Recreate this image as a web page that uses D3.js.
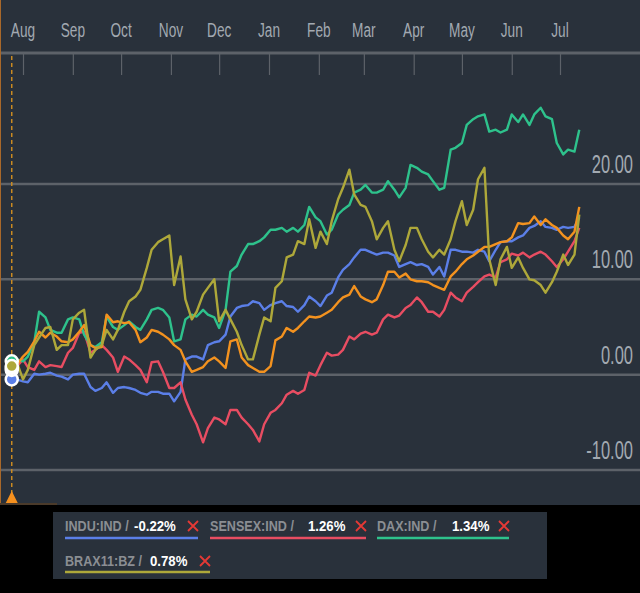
<!DOCTYPE html>
<html>
<head>
<meta charset="utf-8">
<script src="https://cdn.jsdelivr.net/npm/d3@7"></script>
<style>
  body { margin: 0; background: #000; }
  svg { display: block; }
</style>
</head>
<body>
<script>
// twice-weekly closes (Mon / Thu), % change since start
var dates = [
  "2016-07-25", "2016-07-28", "2016-08-01", "2016-08-04", "2016-08-08", "2016-08-11", "2016-08-15", "2016-08-18",
  "2016-08-22", "2016-08-25", "2016-08-29", "2016-09-01", "2016-09-05", "2016-09-08", "2016-09-12", "2016-09-15",
  "2016-09-19", "2016-09-22", "2016-09-26", "2016-09-29", "2016-10-03", "2016-10-06", "2016-10-10", "2016-10-13",
  "2016-10-17", "2016-10-20", "2016-10-24", "2016-10-27", "2016-10-31", "2016-11-03", "2016-11-07", "2016-11-10",
  "2016-11-14", "2016-11-17", "2016-11-21", "2016-11-24", "2016-11-28", "2016-12-01", "2016-12-05", "2016-12-08",
  "2016-12-12", "2016-12-15", "2016-12-19", "2016-12-22", "2016-12-26", "2016-12-29", "2017-01-02", "2017-01-05",
  "2017-01-09", "2017-01-12", "2017-01-16", "2017-01-19", "2017-01-23", "2017-01-26", "2017-01-30", "2017-02-02",
  "2017-02-06", "2017-02-09", "2017-02-13", "2017-02-16", "2017-02-20", "2017-02-23", "2017-02-27", "2017-03-02",
  "2017-03-06", "2017-03-09", "2017-03-13", "2017-03-16", "2017-03-20", "2017-03-23", "2017-03-27", "2017-03-30",
  "2017-04-03", "2017-04-06", "2017-04-10", "2017-04-13", "2017-04-17", "2017-04-20", "2017-04-24", "2017-04-27",
  "2017-05-01", "2017-05-04", "2017-05-08", "2017-05-11", "2017-05-15", "2017-05-18", "2017-05-22", "2017-05-25",
  "2017-05-29", "2017-06-01", "2017-06-05", "2017-06-08", "2017-06-12", "2017-06-15", "2017-06-19", "2017-06-22",
  "2017-06-26", "2017-06-29", "2017-07-03", "2017-07-06", "2017-07-10", "2017-07-13"];

var indu = [
  -0.5, -0.5, -0.7, -0.8, 0.1, 0.0, 0.1, 0.2, -0.1, -0.2,
  -0.5, 0.0, 0.1, 0.1, -1.3, -1.7, -1.4, -0.8, -1.9, -1.4,
  -1.3, -1.4, -1.6, -1.9, -2.1, -1.8, -1.8, -2.0, -2.0, -2.8,
  -1.8, 1.6, 1.9, 1.9, 1.6, 3.1, 3.4, 3.5, 4.2, 6.1,
  7.0, 7.2, 7.3, 7.7, 7.5, 6.8, 7.3, 7.5, 7.7, 7.2,
  7.1, 6.6, 7.3, 8.2, 7.7, 7.2, 8.3, 8.6, 10.2, 11.0,
  11.6, 12.3, 13.1, 13.1, 12.8, 12.6, 12.8, 12.8, 12.5, 11.3,
  11.6, 11.8, 11.5, 11.6, 11.3, 10.5, 11.3, 10.3, 13.1, 13.1,
  12.9, 12.9, 12.8, 13.1, 12.9, 11.9, 13.1, 13.9, 14.0, 14.0,
  14.4, 14.6, 15.4, 15.6, 16.1, 15.5, 15.4, 15.2, 15.5, 15.4,
  15.5, 16.5];
var sensex = [
  0.5, 0.8, 1.6, 0.8, 0.5, 1.4, 0.8, 1.0, 0.9, 0.8,
  2.3, 2.8, 4.4, 4.5, 2.3, 2.6, 3.1, 2.6, 1.8, 0.3,
  1.9, 1.6, 1.0, 0.5, -0.8, 1.3, 1.4, 0.3, -1.4, -1.4,
  -0.8, -2.6, -4.2, -5.2, -7.1, -5.6, -4.5, -4.7, -5.2, -3.7,
  -3.7, -4.5, -5.2, -5.8, -7.0, -5.2, -4.0, -3.7, -3.0, -2.1,
  -1.7, -2.0, -1.6, 0.2, -0.1, 1.0, 2.3, 2.0, 2.1, 2.6,
  4.0, 3.7, 4.3, 4.5, 4.2, 4.4, 5.8, 6.3, 6.0, 6.2,
  7.0, 7.3, 8.1, 7.6, 6.6, 6.6, 6.1, 6.8, 8.6, 8.1,
  7.7, 8.6, 9.2, 9.7, 10.3, 10.5, 10.2, 11.8, 12.1, 12.7,
  12.5, 12.8, 12.3, 12.6, 12.9, 12.6, 11.9, 11.3, 12.1, 12.9,
  14.0, 15.4];
var dax = [
  1.4, 1.6, 1.4, 1.9, 3.4, 6.6, 6.0, 4.7, 4.4, 4.4,
  5.8, 6.0, 5.8, 4.2, 3.1, 2.9, 3.4, 6.1, 5.0, 4.7,
  5.2, 5.6, 5.0, 4.7, 5.8, 6.8, 7.0, 6.8, 6.0, 3.5,
  3.7, 5.8, 6.3, 6.1, 6.8, 6.3, 6.0, 4.9, 6.8, 10.8,
  11.4, 12.6, 13.7, 13.7, 14.0, 14.4, 15.2, 15.2, 15.4, 15.0,
  15.4, 15.0, 15.7, 17.6, 16.5, 16.1, 14.7, 15.2, 16.8, 17.3,
  17.8, 19.1, 19.4, 19.9, 19.1, 19.1, 19.4, 20.3, 19.4, 18.6,
  19.6, 22.0, 21.7, 21.3, 21.0, 20.3, 19.4, 19.6, 23.6, 23.8,
  24.3, 26.2, 26.8, 27.1, 27.3, 25.5, 25.7, 25.4, 25.7, 27.3,
  26.5, 27.3, 26.2, 27.3, 28.0, 27.1, 26.8, 24.3, 23.1, 23.6,
  23.4, 25.7];
// orange line, not listed in the legend
var other = [
  0.7, 1.0, 1.9, 2.4, 3.5, 4.5, 3.9, 4.4, 4.0, 3.5,
  3.4, 3.7, 4.5, 5.2, 3.1, 2.8, 2.9, 6.3, 5.5, 5.6,
  5.4, 5.5, 4.7, 3.4, 3.9, 4.7, 4.5, 4.2, 3.7, 3.1,
  2.6, 1.4, 0.3, 0.5, 0.8, 1.4, 1.8, 1.4, 0.7, 3.5,
  3.7, 1.8, 1.0, 0.7, 0.3, 0.3, 0.9, 3.6, 4.0, 4.9,
  4.5, 4.9, 5.6, 6.1, 6.0, 6.1, 6.5, 6.8, 7.6, 8.1,
  8.4, 9.3, 8.2, 7.9, 7.6, 7.9, 9.4, 10.8, 10.8, 10.2,
  10.6, 10.0, 9.8, 9.8, 9.7, 9.4, 9.1, 8.9, 10.3, 10.8,
  11.6, 12.1, 12.5, 12.9, 13.4, 13.4, 13.7, 13.9, 14.0, 14.4,
  15.9, 15.8, 15.9, 16.6, 15.7, 16.3, 15.7, 15.4, 14.6, 14.2,
  15.0, 17.6];
var brax = [
  0.9, 1.4, -0.5, 0.5, 3.1, 3.9, 4.9, 5.0, 2.6, 3.1,
  3.1, 5.8, 6.5, 6.8, 1.8, 2.6, 3.1, 4.7, 3.7, 4.7,
  6.6, 7.7, 8.2, 8.9, 11.2, 13.1, 13.9, 14.2, 14.6, 9.4,
  12.4, 7.9, 5.8, 6.6, 8.4, 9.1, 10.0, 5.6, 6.8, 5.8,
  4.5, 3.1, 1.6, 1.6, 4.2, 6.0, 5.6, 9.1, 9.8, 12.3,
  12.6, 14.0, 13.7, 16.3, 13.3, 15.0, 13.7, 16.1, 18.4, 19.6,
  21.5, 18.9, 17.8, 17.6, 16.1, 14.2, 15.4, 16.1, 13.1, 11.9,
  13.6, 15.4, 15.4, 14.2, 12.9, 12.3, 13.1, 12.6, 14.2, 16.1,
  18.2, 15.7, 17.3, 20.5, 21.7, 12.1, 9.4, 12.1, 13.4, 11.2,
  12.3, 11.2, 10.0, 9.9, 9.4, 8.6, 9.7, 10.8, 12.6, 11.5,
  12.6, 16.8];

var monthTicks = ["2016-08-01", "2016-09-01", "2016-10-01", "2016-11-01", "2016-12-01", "2017-01-01",
  "2017-02-01", "2017-03-01", "2017-04-01", "2017-05-01", "2017-06-01", "2017-07-01"];
var monthLabels = ["Aug", "Sep", "Oct", "Nov", "Dec", "Jan", "Feb", "Mar", "Apr", "May", "Jun", "Jul"];
var yTicks = [20, 10, 0, -10];

var legendNames = ["INDU:IND", "SENSEX:IND", "DAX:IND", "BRAX11:BZ"];
var legendChange = ["-0.22%", "1.26%", "1.34%", "0.78%"];

var W = 640, H = 593;
var parse = d3.timeParse("%Y-%m-%d");
var days = dates.map(parse);

var svg = d3.select("body").append("svg").attr("width", W).attr("height", H);

svg.append("rect").attr("width", W).attr("height", 505).attr("fill", "#29313b");

var x = d3.scaleTime()
  .domain([parse("2016-08-01"), parse("2017-07-01")])
  .range([23, 560]);
var y = d3.scaleLinear().domain([-10, 20]).range([470, 184]);

// squeezed narrow text like the original
function label(g, px, py, txt, size, anchor, sx, fill, weight) {
  return g.append("text")
    .attr("transform", "translate(" + px + "," + py + ") scale(" + sx + ",1)")
    .attr("text-anchor", anchor)
    .attr("font-family", weight ? "Liberation Sans, Arial, sans-serif" : "Liberation Sans Narrow, Arial Narrow, sans-serif")
    .attr("font-weight", weight || "normal")
    .attr("font-size", size)
    .attr("fill", fill)
    .text(txt);
}

// grid lines + y labels
yTicks.forEach(function (v) {
  svg.append("line").attr("x1", 0).attr("x2", W)
    .attr("y1", y(v)).attr("y2", y(v))
    .attr("stroke", "#5d6269").attr("stroke-width", 2.5);
  label(svg, 633, y(v) - 11, v.toFixed(2), 25, "end", 0.66, "#a2a9b1");
});

// top time axis
var xAxis = d3.axisBottom(x)
  .tickValues(monthTicks.map(parse))
  .tickSize(22)
  .tickFormat("");
var ax = svg.append("g").attr("transform", "translate(0,53)").call(xAxis);
ax.select(".domain").remove();
ax.selectAll(".tick line").attr("stroke", "#5d6269").attr("stroke-width", 1.2);
svg.append("line").attr("x1", 0).attr("x2", W).attr("y1", 53).attr("y2", 53)
  .attr("stroke", "#5d6269").attr("stroke-width", 3);

monthTicks.forEach(function (d, i) {
  label(svg, x(parse(d)), 37, monthLabels[i], 21, "middle", 0.65, "#a2a9b1");
});

// start marker dashed line
var x0 = x(days[0]);
svg.append("line").attr("x1", 0.5).attr("x2", 0.5).attr("y1", 0).attr("y2", 505)
  .attr("stroke", "#a8682a").attr("stroke-width", 1);
svg.append("line").attr("x1", x0).attr("x2", x0).attr("y1", 56).attr("y2", 494)
  .attr("stroke", "#c98a22").attr("stroke-width", 1.5).attr("stroke-dasharray", "4,3");
svg.append("path")
  .attr("d", "M" + (x0 - 7) + ",505L" + x0 + ",491L" + (x0 + 7) + ",505Z")
  .attr("fill", "#f5901e");
svg.append("line").attr("x1", 0).attr("x2", 57).attr("y1", 504).attr("y2", 504)
  .attr("stroke", "#4a3a2a").attr("stroke-width", 2);

var series = [
  { values: indu, color: "#5b7fe8" },
  { values: sensex, color: "#e84d62" },
  { values: dax, color: "#2ec28c" },
  { values: other, color: "#f3921f" },
  { values: brax, color: "#aea83a" }
];

var line = d3.line()
  .x(function (d, i) { return x(days[i]); })
  .y(function (d) { return y(d); });

series.forEach(function (s) {
  svg.append("path")
    .attr("d", line(s.values))
    .attr("fill", "none")
    .attr("stroke", s.color)
    .attr("stroke-width", 2.4)
    .attr("stroke-linejoin", "round");
});

series.forEach(function (s) {
  svg.append("circle")
    .attr("cx", x0).attr("cy", y(s.values[0])).attr("r", 6)
    .attr("fill", s.color).attr("stroke", "#fff").attr("stroke-width", 2.5);
});

// legend
svg.append("rect").attr("x", 53).attr("y", 512).attr("width", 494).attr("height", 67)
  .attr("fill", "#29313b");

var legendLayout = [
  { x: 65, valX: 134, crossX: 193, end: 198, row: 0 },
  { x: 210, valX: 308, crossX: 361, end: 366, row: 0 },
  { x: 377, valX: 452, crossX: 504, end: 509, row: 0 },
  { x: 65, valX: 150, crossX: 205, end: 210, row: 1 }
];
var rowText = [531, 566], rowLine = [538, 572];

legendNames.forEach(function (name, i) {
  var L = legendLayout[i];
  var ty = rowText[L.row];
  label(svg, L.x, ty, name + " /", 15, "start", 0.84, "#8b8e93", "bold");
  label(svg, L.valX, ty, legendChange[i], 15, "start", 0.88, "#ffffff", "bold");
  var cy = ty - 5;
  svg.append("path")
    .attr("d", "M" + (L.crossX - 5) + "," + (cy - 5) + "L" + (L.crossX + 5) + "," + (cy + 5) +
      "M" + (L.crossX + 5) + "," + (cy - 5) + "L" + (L.crossX - 5) + "," + (cy + 5))
    .attr("stroke", "#e53935").attr("stroke-width", 1.8);
  svg.append("line").attr("x1", L.x).attr("x2", L.end)
    .attr("y1", rowLine[L.row]).attr("y2", rowLine[L.row])
    .attr("stroke", series[i === 3 ? 4 : i].color).attr("stroke-width", 2.5);
});
</script>
</body>
</html>
